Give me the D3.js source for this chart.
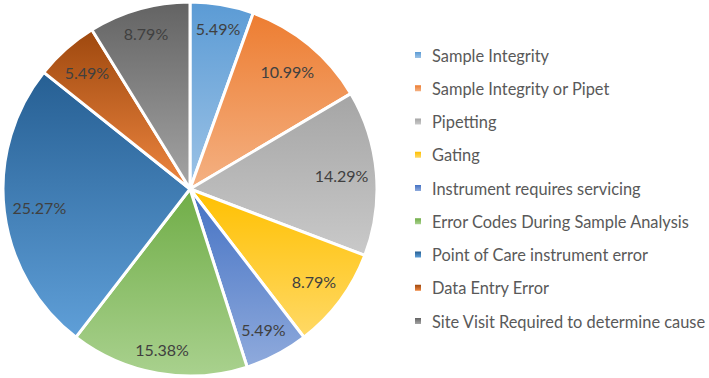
<!DOCTYPE html>
<html>
  <head>
    <meta http-equiv="Content-Type" content="text/html;charset=utf-8"/>
    <title>Error causes</title>
    <script src="https://d3js.org/d3.v7.min.js"></script>
  </head>
  <body style="margin:0;background:#fff">
    <script type="text/javascript">

        const categories = [
            'Sample Integrity',
            'Sample Integrity or Pipet',
            'Pipetting',
            'Gating',
            'Instrument requires servicing',
            'Error Codes During Sample Analysis',
            'Point of Care instrument error',
            'Data Entry Error',
            'Site Visit Required to determine cause'
        ]
        const values = [5.49, 10.99, 14.29, 8.79, 5.49, 15.38, 25.27, 5.49, 8.79]

        // top colour -> bottom colour of each slice gradient
        const topColors = ['#5b9bd5', '#ed7d31', '#a5a5a5', '#ffc000', '#4472c4', '#70ad47', '#265f93', '#9e480e', '#636363']
        const bottomColors = ['#9dc3e6', '#f4b183', '#c9c9c9', '#ffd966', '#8faadc', '#a9d18e', '#5f9fd8', '#ee8640', '#a5a5a5']

        const width = 709,
            height = 378
        const cx = 190, cy = 189, radius = 187

        const svg = d3.select('body').append('svg')
            .attr('width', width)
            .attr('height', height)
            .style('font-family', 'Lato, "Open Sans", sans-serif')

        const defs = svg.append('defs')
        categories.forEach((c, i) => {
            const g = defs.append('linearGradient')
                .attr('id', 'grad' + i)
                .attr('x1', 0).attr('y1', 0).attr('x2', 0).attr('y2', 1)
            g.append('stop').attr('offset', '0%').attr('stop-color', topColors[i])
            g.append('stop').attr('offset', '100%').attr('stop-color', bottomColors[i])
        })

        const pie = d3.pie().sort(null).value(d => d)
        const arc = d3.arc().innerRadius(0).outerRadius(radius)
        const arcs = pie(values)

        const chart = svg.append('g').attr('transform', `translate(${cx},${cy})`)

        chart.selectAll('path')
            .data(arcs)
            .enter()
            .append('path')
            .attr('d', arc)
            .attr('fill', (d, i) => `url(#grad${i})`)
            .attr('stroke', '#fff')
            .attr('stroke-width', 3)
            .attr('stroke-linejoin', 'round')

        // labels placed "inside end"
        const labels = chart.selectAll('text.lbl')
            .data(arcs)
            .enter()
            .append('text')
            .attr('class', 'lbl')
            .attr('text-anchor', 'middle')
            .attr('dominant-baseline', 'central')
            .attr('fill', '#404040')
            .style('font-size', '16px')
            .text(d => d.data.toFixed(2) + '%')

        labels.each(function(d) {
            const w = this.getComputedTextLength()
            const a = (d.startAngle + d.endAngle) / 2
            const s = Math.abs(Math.sin(a)), c = Math.abs(Math.cos(a))
            const r = radius - 7 - (s * w / 2 + c * 13)
            d3.select(this)
                .attr('x', r * Math.sin(a))
                .attr('y', -r * Math.cos(a))
        })

        // legend
        const legendY = d3.scalePoint()
            .domain(categories)
            .range([55, 321])

        const legend = svg.append('g')
            .selectAll('g')
            .data(categories)
            .enter()
            .append('g')
            .attr('transform', d => `translate(415,${legendY(d)})`)

        legend.append('rect')
            .attr('x', 0)
            .attr('y', -3)
            .attr('width', 6)
            .attr('height', 6)
            .attr('fill', (d, i) => `url(#grad${i})`)

        legend.append('text')
            .attr('x', 17)
            .attr('dominant-baseline', 'central')
            .attr('fill', '#595959')
            .style('font-size', '16.4px')
            .text(d => d)

    </script>
  </body>
</html>
